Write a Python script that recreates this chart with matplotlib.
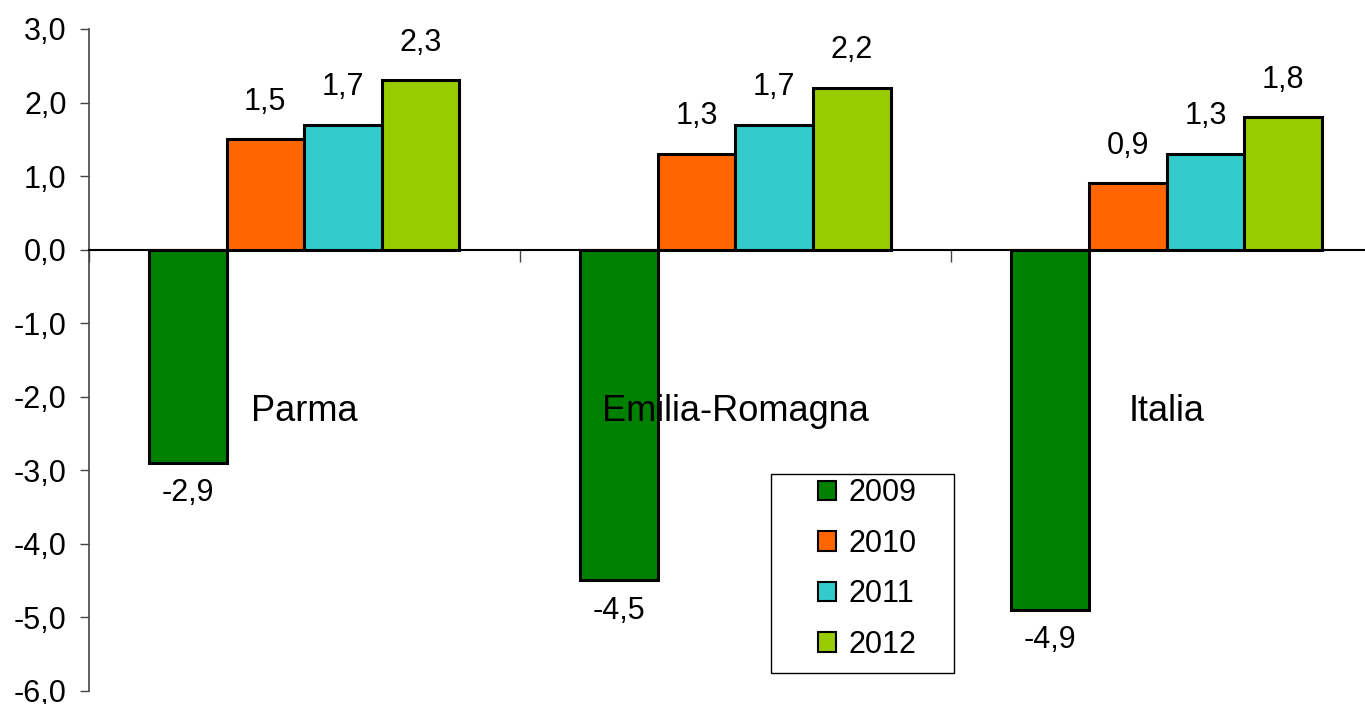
import numpy as np
import matplotlib
matplotlib.use("Agg")
import matplotlib.pyplot as plt
from matplotlib.patches import Rectangle
from matplotlib.ticker import FuncFormatter

plt.rcParams['font.family'] = ['Liberation Sans', 'DejaVu Sans']

# data
areas = ["Parma", "Emilia-Romagna", "Italia"]
years = ["2009", "2010", "2011", "2012"]
v2009 = [-2.9, -4.5, -4.9]
v2010 = [1.5, 1.3, 0.9]
v2011 = [1.7, 1.7, 1.3]
v2012 = [2.3, 2.2, 1.8]
colors = ["#008000", "#FF6600", "#33CCCC", "#99CC00"]

series = [v2009, v2010, v2011, v2012]

def fmt(v):
    return f"{v:.1f}".replace(".", ",")

W, H = 1365, 704
fig = plt.figure(figsize=(W / 100, H / 100), dpi=100)
ax = fig.add_axes([88.5 / W, 13.3 / H, 1 - 88.5 / W, (690.7 - 29) / H])

x = np.arange(len(areas))
w = 0.18
for k, (vals, col, yr) in enumerate(zip(series, colors, years)):
    pos = x + (k - 1.5) * w
    bars = ax.bar(pos, vals, w, color=col, edgecolor="black", linewidth=2.2,
                  label=yr, zorder=3)
    for b, v in zip(bars, vals):
        off = 27 if v >= 0 else -22
        ax.annotate(fmt(v), (b.get_x() + b.get_width() / 2, v),
                    xytext=(0, off), textcoords="offset points",
                    ha="center", va="center", fontsize=22)

# category names inside the plot
for i, name in enumerate(areas):
    ax.text(i, -2.2, name, ha="center", va="center", fontsize=26, zorder=4)

ax.set_ylim(-6, 3)
ax.set_xlim(-0.5, 2.46)
ax.set_yticks(np.arange(-6, 3.1, 1))
ax.yaxis.set_major_formatter(FuncFormatter(lambda v, p: fmt(v)))
ax.set_xticks([-0.5, 0.5, 1.5])
ax.set_xticklabels([])

ax.spines["top"].set_visible(False)
ax.spines["right"].set_visible(False)
ax.spines["bottom"].set_position(("data", 0))
ax.spines["bottom"].set_linewidth(1.5)
ax.spines["left"].set_color("#444444")
ax.spines["left"].set_linewidth(1.2)
ax.tick_params(axis="y", direction="out", length=6.3, width=1.0,
               color="#444444", labelsize=22, pad=9.5)
ax.tick_params(axis="x", direction="out", length=8.6, width=1.0, color="#444444")

leg = ax.legend(loc="center", bbox_to_anchor=(867 / W, 1 - 569 / H),
                bbox_transform=fig.transFigure, fontsize=22, frameon=False,
                labelspacing=0.67, handlelength=0.6, handleheight=0.6,
                handletextpad=0.4, borderpad=0, borderaxespad=0)
for h in leg.legend_handles:
    h.set_linewidth(1.5)

# legend box
fig.patches.append(Rectangle((771 / W, 1 - 673 / H), 183 / W, 199 / H,
                             transform=fig.transFigure, fill=False,
                             edgecolor="black", linewidth=1.0, zorder=5))

fig.savefig("out.png", dpi=100)
